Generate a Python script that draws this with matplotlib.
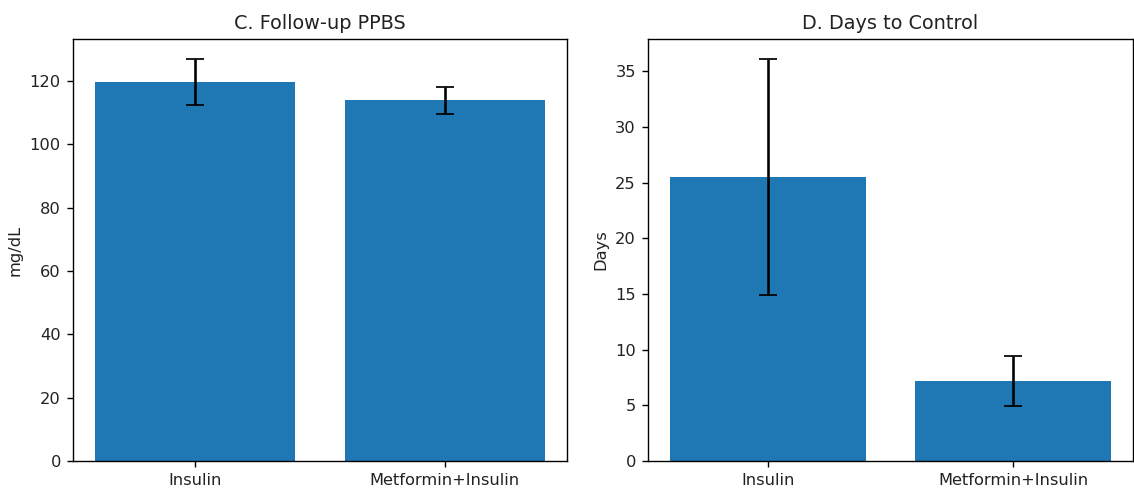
import matplotlib
matplotlib.use("Agg")
import matplotlib.pyplot as plt

groups = ["Insulin", "Metformin+Insulin"]
ppbs_mean = [119.7, 113.9]
ppbs_err = [7.2, 4.2]
days_mean = [25.5, 7.15]
days_err = [10.6, 2.25]

plt.rcParams.update({
    "font.size": 9.4,
    "axes.titlesize": 11.1,
    "text.color": "#222222",
    "axes.labelcolor": "#222222",
    "xtick.labelcolor": "#222222",
    "ytick.labelcolor": "#222222",
})

W, H = 1134, 491
dpi = 125
fig = plt.figure(figsize=(W / dpi, H / dpi), dpi=dpi)

def box(x0, x1, y0, y1):
    return [x0 / W, 1 - y1 / H, (x1 - x0) / W, (y1 - y0) / H]

ax1 = fig.add_axes(box(73, 567, 39, 461))
ax2 = fig.add_axes(box(648, 1133, 39, 461))

ax1.bar(groups, ppbs_mean, yerr=ppbs_err, capsize=5, color="#1f77b4")
ax1.set_title("C. Follow-up PPBS")
ax1.set_ylabel("mg/dL")

ax2.bar(groups, days_mean, yerr=days_err, capsize=5, color="#1f77b4")
ax2.set_title("D. Days to Control")
ax2.set_ylabel("Days")

fig.savefig("out.png", dpi=dpi)
